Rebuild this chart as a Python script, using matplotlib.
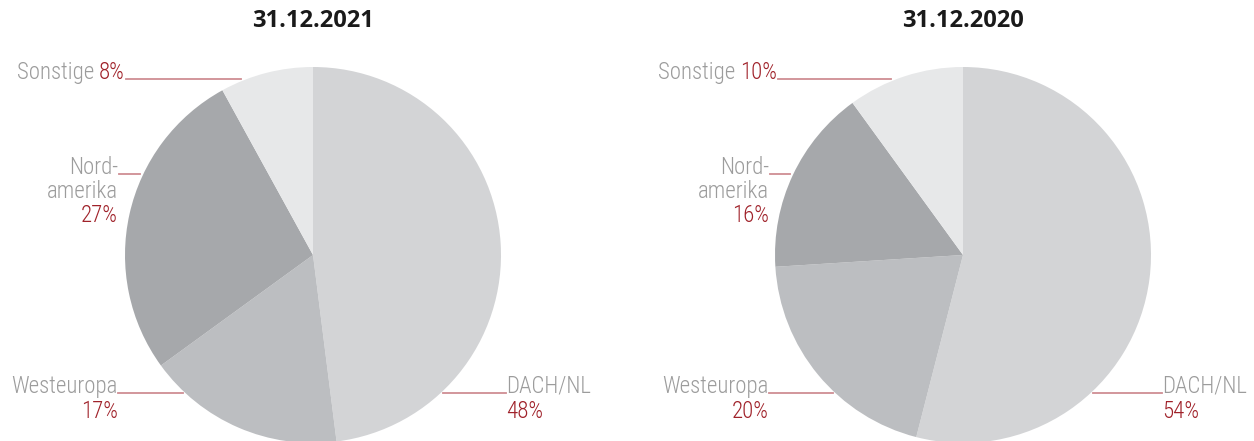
import matplotlib.pyplot as plt
from matplotlib.lines import Line2D

# data
regions = ["DACH/NL", "Westeuropa", "Nordamerika", "Sonstige"]
dates = ["31.12.2021", "31.12.2020"]
shares_2021 = [48, 17, 27, 8]
shares_2020 = [54, 20, 16, 10]

W, H = 1254, 441
slice_colors = ["#d3d4d6", "#bcbec1", "#a6a8ab", "#e7e8e9"]
grey_txt = "#9c9c9c"
red_txt = "#a0222a"
line_col = "#cf8e93"
label_font = ["Roboto Condensed", "Roboto", "DejaVu Sans"]
FS = 16.5

fig = plt.figure(figsize=(W / 100, H / 100), dpi=100)
ax = fig.add_axes([0, 0, 1, 1])
ax.set_xlim(0, W)
ax.set_ylim(0, H)
renderer = fig.canvas.get_renderer()


def fy(y):
  """ pixel row (from top) -> data y """
  return H - y


def leader(x0, x1, y):
  ax.add_line(Line2D([x0, x1], [fy(y), fy(y)], color=line_col, lw=1.3))


def label(x, y, txt, color, ha):
  return ax.text(x, fy(y), txt, color=color, ha=ha, va="baseline", fontsize=FS,
                 family=label_font, fontweight="light", fontstretch="condensed")


def draw_pie(cx, shares, title, lay):
  ax.pie(shares, colors=slice_colors, startangle=90, counterclock=False,
         center=(cx, fy(255)), radius=188, wedgeprops=dict(linewidth=0))
  ax.set_xlim(0, W)
  ax.set_ylim(0, H)
  ax.text(cx, fy(27), title, ha="center", va="baseline", fontsize=17,
          fontweight="bold", family=["Open Sans", "DejaVu Sans"], color="#1a1a1a")
  # Sonstige: percent ends where the leader starts
  s0, s1 = lay["son_line"]
  pct = label(s0 - 1, 79, f"{shares[3]}%", red_txt, "right")
  bb = pct.get_window_extent(renderer)
  label(bb.x0 - 5, 79, "Sonstige", grey_txt, "right")
  leader(s0, s1, 79)
  # Nordamerika
  nx = lay["left_x"]
  label(nx, 174, "Nord-", grey_txt, "right")
  label(nx, 198, "amerika", grey_txt, "right")
  label(nx, 222, f"{shares[2]}%", red_txt, "right")
  leader(nx + 1, cx - 169 - 4, 174)
  # Westeuropa
  label(nx, 393, "Westeuropa", grey_txt, "right")
  label(nx, 418, f"{shares[1]}%", red_txt, "right")
  leader(nx, cx - 128 - 2, 393)
  # DACH/NL
  rx = lay["right_x"]
  label(rx, 393, "DACH/NL", grey_txt, "left")
  label(rx, 418, f"{shares[0]}%", red_txt, "left")
  leader(cx + 128 + 2, rx, 393)


draw_pie(313, shares_2021, dates[0],
         dict(son_line=(126, 241), left_x=118, right_x=506))
draw_pie(963, shares_2020, dates[1],
         dict(son_line=(778, 891), left_x=769, right_x=1162))

ax.set_aspect("auto")
ax.axis("off")

fig.savefig("out.png", dpi=100, facecolor="white")
